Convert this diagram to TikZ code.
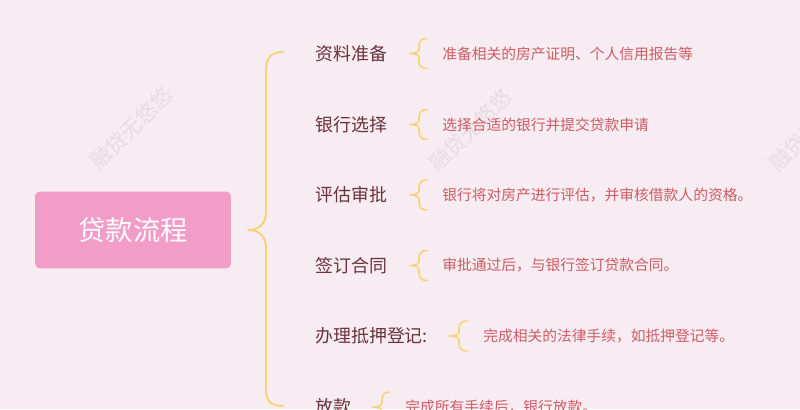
\documentclass[tikz,border=0pt]{standalone}
\usepackage{fontspec}
\setmainfont{Noto Sans CJK SC}
\usetikzlibrary{positioning}
\definecolor{bgpink}{RGB}{246,236,241}
\definecolor{rootpink}{RGB}{241,157,199}
\definecolor{bracegold}{RGB}{244,212,122}
\definecolor{itemtext}{RGB}{108,50,60}
\definecolor{desctext}{RGB}{206,92,102}
\definecolor{wmgray}{RGB}{229,219,225}
\tikzset{
root/.style={rectangle,rounded corners=0.1cm,fill=rootpink,text=white,
  minimum width=3.92cm,minimum height=1.54cm,font=\fontsize{15.5}{18}\selectfont},
item/.style={anchor=west,inner sep=0pt,text=itemtext,font=\fontsize{10.2}{12}\selectfont},
desc/.style={anchor=west,inner sep=0pt,text=desctext,font=\fontsize{8.4}{10}\selectfont},
watermark/.style={rotate=45,inner sep=0pt,text=wmgray,font=\fontsize{12}{14}\selectfont},
brace line/.style={draw=bracegold,line cap=round,line join=round},
smallbrace/.pic={
  \draw[brace line,line width=0.9pt] (17,-15) .. controls (11,-15) and (9,-12) .. (9,-7)
  -- (9,-4) .. controls (9,-1) and (4,0) .. (0,0)
  .. controls (4,0) and (9,1) .. (9,4) -- (9,7)
  .. controls (9,12) and (11,15) .. (17,15);
},
}

\begin{document}
\begin{tikzpicture}[x=0.02cm,y=-0.02cm]
  \path[use as bounding box,clip] (0,0) rectangle (800,409);
  \fill[bgpink] (0,0) rectangle (800,409);

  % watermarks
  \node[watermark] (wm1) at (131,128) {融贷无悠悠};
  \node[watermark] (wm2) at (470,130) {融贷无悠悠};
  \node[watermark] (wm3) at (810,130) {融贷无悠悠};

  \node[root] (root) at (133,230) {贷款流程};

  % big brace
  \draw[brace line,line width=1.1pt] (283,52) .. controls (271,52) and (266,58) .. (266,70)
    -- (266,212) .. controls (266,224) and (259,230) .. (248,230)
    .. controls (259,230) and (266,236) .. (266,248)
    -- (266,390) .. controls (266,401) and (271,406) .. (283,406);

  % steps
  \node[item] (s1) at (315,53.5) {资料准备};
  \pic (b1) at (410,53.5) {smallbrace};
  \node[desc] (d1) at (442,53.5) {准备相关的房产证明、个人信用报告等};

  \node[item] (s2) at (315,124.5) {银行选择};
  \pic (b2) at (410,124.5) {smallbrace};
  \node[desc] (d2) at (442,124.5) {选择合适的银行并提交贷款申请};

  \node[item] (s3) at (315,195) {评估审批};
  \pic (b3) at (410,195) {smallbrace};
  \node[desc] (d3) at (442,195) {银行将对房产进行评估，并审核借款人的资格。};

  \node[item] (s4) at (315,265.5) {签订合同};
  \pic (b4) at (410,265.5) {smallbrace};
  \node[desc] (d4) at (442,265.5) {审批通过后，与银行签订贷款合同。};

  \node[item] (s5) at (315,336) {办理抵押登记:};
  \pic (b5) at (450,336) {smallbrace};
  \node[desc] (d5) at (483,336) {完成相关的法律手续，如抵押登记等。};

  \node[item] (s6) at (315,407) {放款};
  \pic (b6) at (373,407) {smallbrace};
  \node[desc] (d6) at (405,407) {完成所有手续后，银行放款。};
\end{tikzpicture}
\end{document}
